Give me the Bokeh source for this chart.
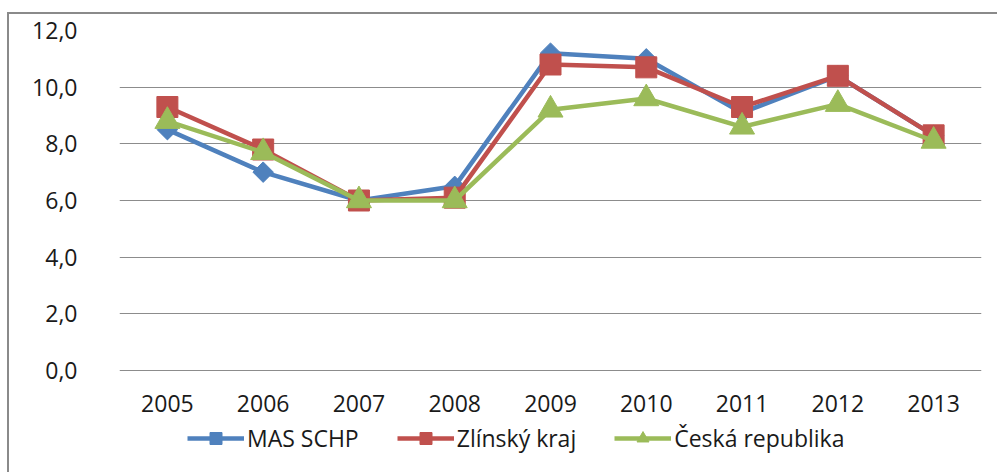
from bokeh.plotting import figure
from bokeh.models import (FactorRange, Range1d, FixedTicker, CustomJSTickFormatter,
                          Legend, LegendItem, ColumnDataSource)
from bokeh.embed import file_html
from bokeh.resources import INLINE
import numpy as np

years = ["2005", "2006", "2007", "2008", "2009", "2010", "2011", "2012", "2013"]
mas_schp = [8.5, 7.0, 6.0, 6.5, 11.2, 11.0, 9.1, 10.4, 8.3]
zlinsky_kraj = [9.3, 7.8, 6.0, 6.1, 10.8, 10.7, 9.3, 10.4, 8.3]
ceska_republika = [8.8, 7.7, 6.0, 6.0, 9.2, 9.6, 8.6, 9.4, 8.1]
y_ticks = [0, 2, 4, 6, 8, 10, 12]

series_names = ["MAS SCHP", "Zlínský kraj", "Česká republika"]

FONT = "Open Sans"
GRID = "#8c8c8c"

# frame extends below the value axis so the legend can sit inside it;
# 0..12 occupies the top 340 px of the 444 px frame
FRAME_H = 444
Y_MAX = 12
Y_MIN = Y_MAX - Y_MAX * FRAME_H / 340

p = figure(width=990, height=460, x_range=FactorRange(*years, range_padding=0),
           y_range=Range1d(Y_MIN, Y_MAX), output_backend="svg", toolbar_location=None,
           min_border_left=110, min_border_right=18, min_border_top=16, min_border_bottom=0)
p.styles = {"border-left": "2px solid #8a8a8a", "border-top": "2px solid #8a8a8a",
            "margin-top": "12px", "margin-left": "7px"}
p.outline_line_color = None
p.background_fill_color = "white"
p.border_fill_color = "white"

p.xgrid.grid_line_color = None
p.ygrid.grid_line_color = GRID
p.ygrid.grid_line_width = 1.2
p.yaxis.ticker = FixedTicker(ticks=y_ticks)
p.yaxis.formatter = CustomJSTickFormatter(code="return tick.toFixed(1).replace('.', ',')")
p.xaxis.fixed_location = 0

for ax in (p.xaxis, p.yaxis):
    ax.axis_line_color = None
    ax.major_tick_line_color = None
    ax.minor_tick_line_color = None
    ax.major_label_text_font = FONT
    ax.major_label_text_font_size = "23px"
    ax.major_label_text_color = "#1a1a1a"
p.yaxis.major_label_standoff = 36
p.xaxis.major_label_standoff = 18

colors = ["#4F81BD", "#C0504D", "#9BBB59"]
data = [mas_schp, zlinsky_kraj, ceska_republika]
items = []
for name, vals, col, mk in zip(series_names, data, colors, ["diamond", "square", "triangle"]):
    src = ColumnDataSource(dict(x=years, y=vals))
    l = p.line("x", "y", source=src, line_color=col, line_width=4.5)
    if mk == "diamond":
        s = p.scatter("x", "y", source=src, marker="square", angle=np.pi / 4, size=14.5,
                      fill_color=col, line_color=col)
    elif mk == "square":
        s = p.scatter("x", "y", source=src, marker="square", size=21,
                      fill_color=col, line_color=col)
    else:
        s = p.scatter("x", "y", source=src, marker="triangle", size=25,
                      fill_color=col, line_color=col)
    items.append(LegendItem(label=name, renderers=[l, s]))

legend = Legend(items=items, orientation="horizontal", location=(68, 20),
                label_text_font=FONT, label_text_font_size="23px", label_text_color="#1a1a1a",
                glyph_width=57, glyph_height=30, label_standoff=3, spacing=38,
                padding=0, margin=0, border_line_color=None, background_fill_alpha=0)
p.add_layout(legend, "center")

open("out.html", "w").write(file_html(p, INLINE))
